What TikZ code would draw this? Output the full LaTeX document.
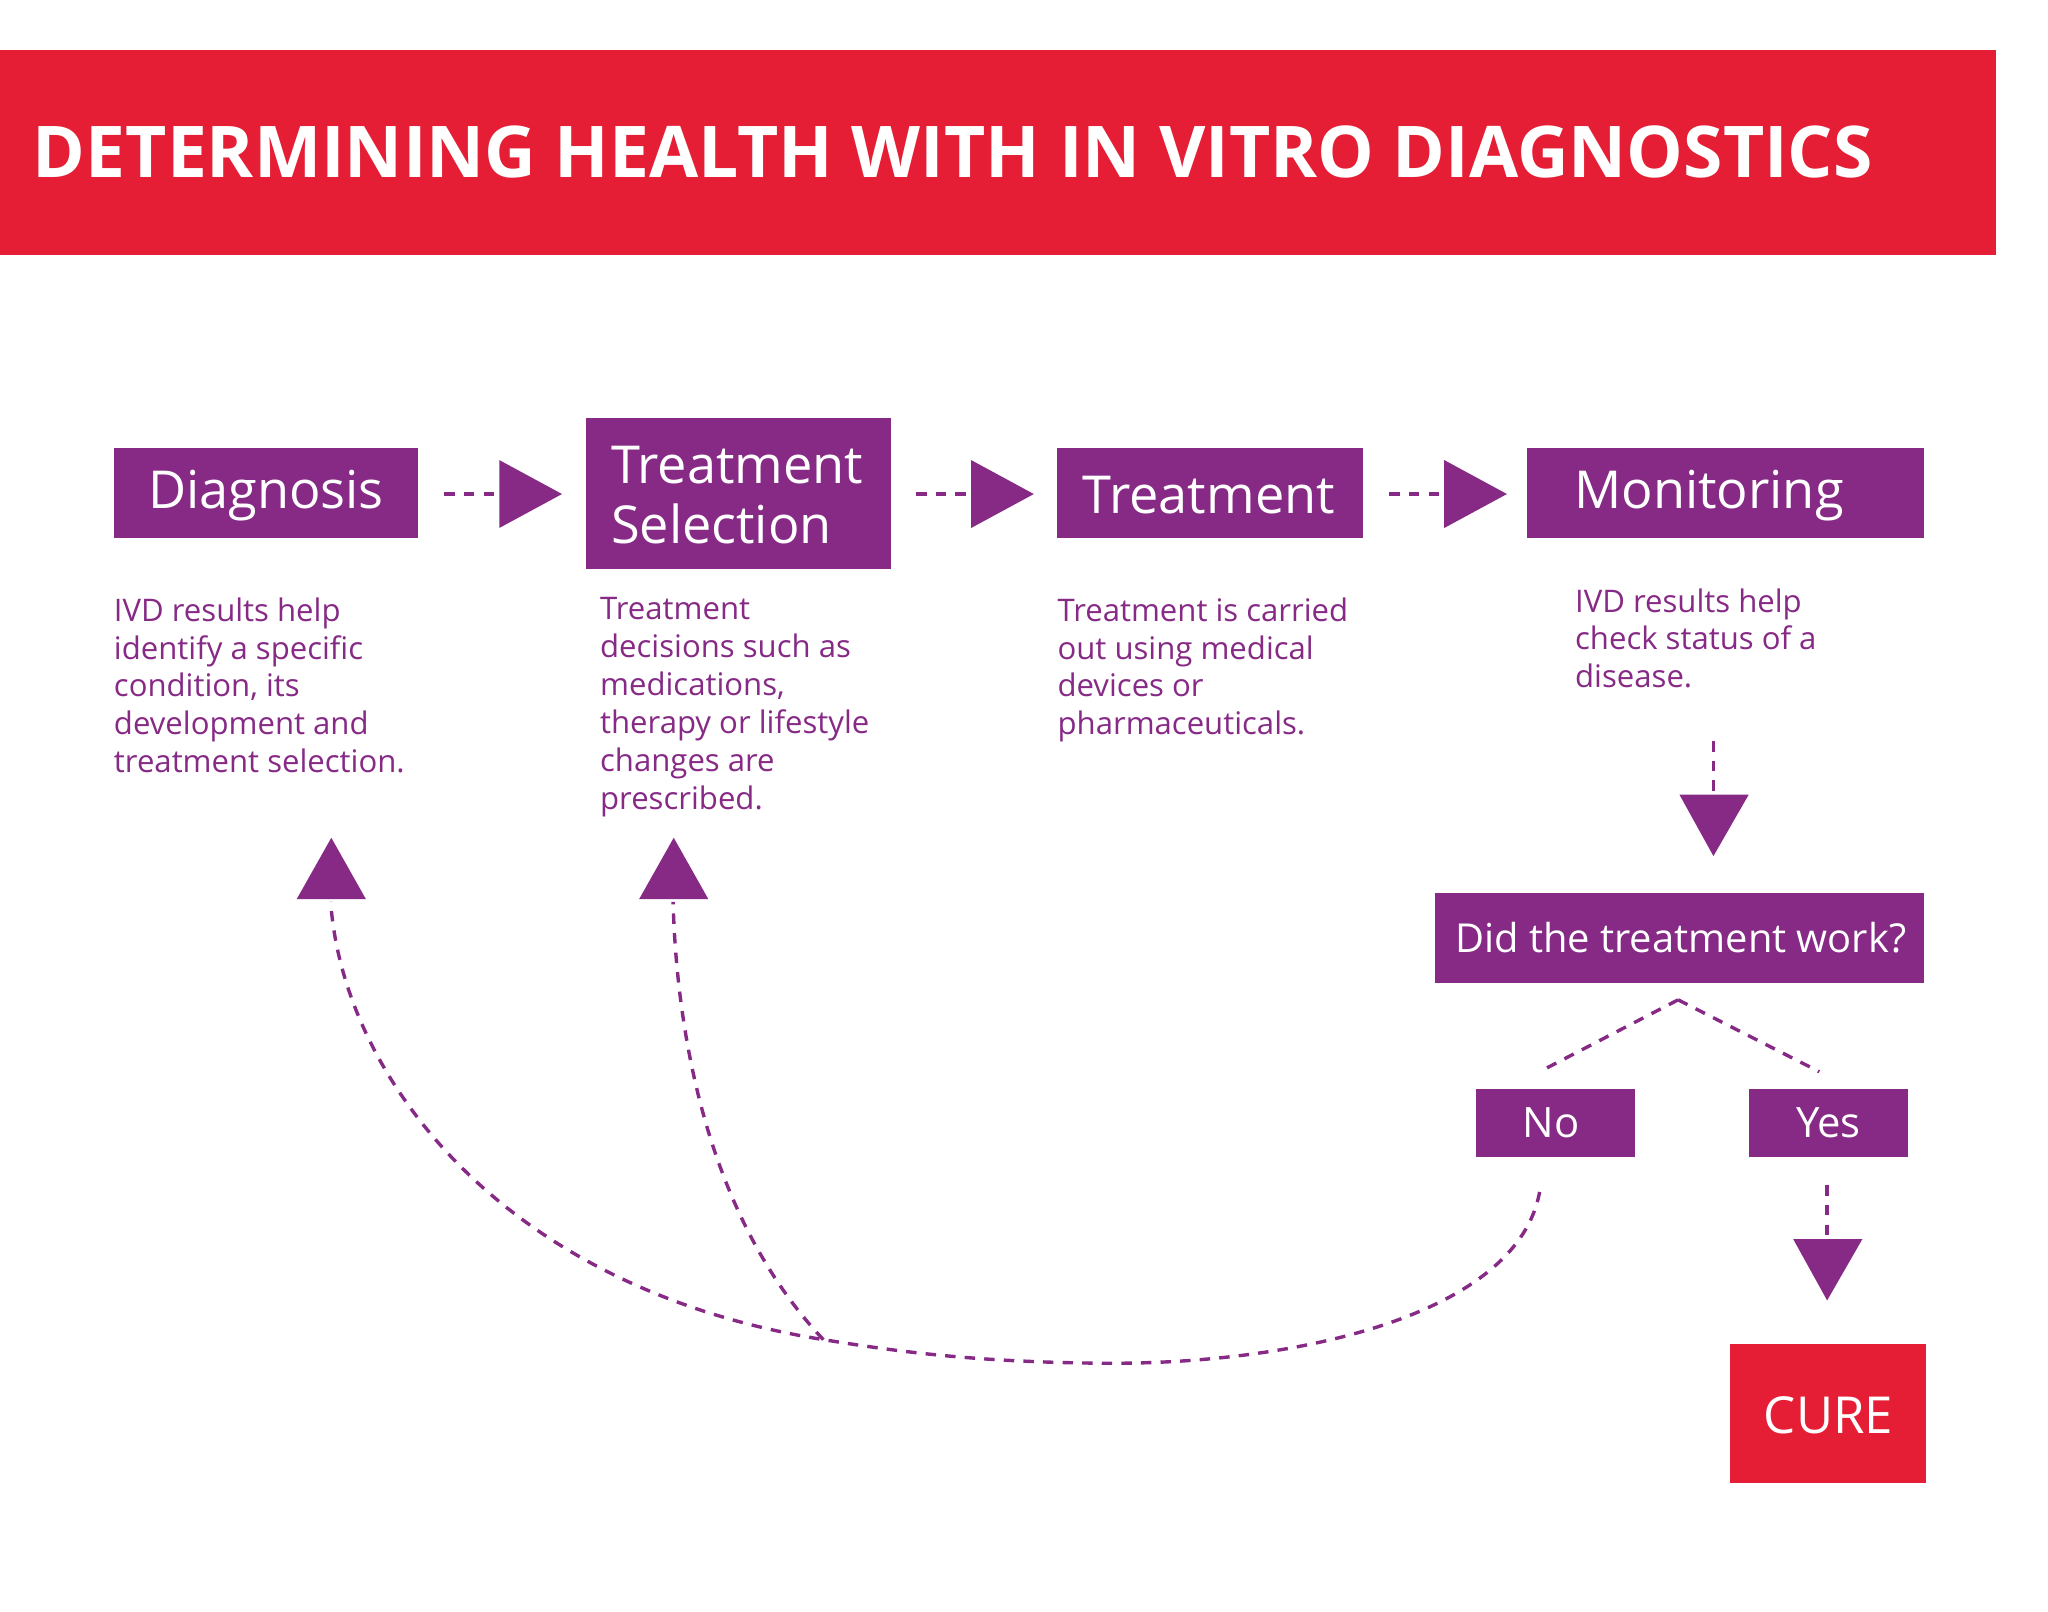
\documentclass[tikz,border=0pt]{standalone}
\usepackage{fontspec}
\setmainfont{Open Sans}
\definecolor{pur}{HTML}{862A86}
\definecolor{rd}{HTML}{E51E35}
\begin{document}
\begin{tikzpicture}[x=1pt,y=-1pt,
  desc/.style={text=pur,anchor=north west,align=left,inner sep=0pt,font=\fontsize{23.8}{29}\selectfont},
  dl/.style={pur,line width=2.6pt,dash pattern=on 8pt off 7pt}]
\useasboundingbox (0,0) rectangle (1567,1233);
\fill[white] (0,0) rectangle (1567,1233);
\fill[rd] (0,38) rectangle (1527,195);
\node[anchor=base west,text=white,inner sep=0pt,font=\fontsize{54.6}{58}\bfseries\selectfont] (title) at (25,136) {DETERMINING HEALTH WITH IN VITRO DIAGNOSTICS};
% boxes
\fill[pur] (87,343) rectangle (320,412);
\node[text=white,font=\fontsize{40}{44}\selectfont] (diag) at (203.5,379) {Diagnosis};
\fill[pur] (448,320) rectangle (682,435);
\node[text=white,anchor=west,align=left,font=\fontsize{40}{46}\selectfont] (tsel) at (464,379) {Treatment\\Selection};
\fill[pur] (809,343) rectangle (1043,412);
\node[text=white,font=\fontsize{40}{44}\selectfont] (treat) at (925,379) {Treatment};
\fill[pur] (1168,343) rectangle (1472,412);
\node[text=white,anchor=west,font=\fontsize{40}{44}\selectfont] (mon) at (1201,379) {Monitoring};
% horizontal arrows
\foreach \a in {340,701,1063}{
  \draw[dl] (\a,378) -- (\a+42,378);
  \fill[pur] (\a+42,352) -- (\a+90,378) -- (\a+42,404) -- cycle;}
% descriptions
\node[desc] (d1) at (87,457) {IVD results help\\identify a specific\\condition, its\\development and\\treatment selection.};
\node[desc] (d2) at (459,457) {Treatment\\decisions such as\\medications,\\therapy or lifestyle\\changes are\\prescribed.};
\node[desc] (d3) at (809,457) {Treatment is carried\\out using medical\\devices or\\pharmaceuticals.};
\node[desc] (d4) at (1205,450) {IVD results help\\check status of a\\disease.};
% down arrow to question
\coordinate (m1) at (1311,567); \coordinate (m2) at (1311,608);
\draw[dl] (m1) -- (m2);
\fill[pur] (1285,608) -- (1338,608) -- (1311,655) -- cycle;
\fill[pur] (1098,683) rectangle (1472,752);
\node[text=white,font=\fontsize{30.5}{34}\selectfont] (q) at (1286,717.5) {Did the treatment work?};
\coordinate (qb) at (1284,765); \coordinate (nt) at (1178,820); \coordinate (yt) at (1392,820);
\draw[dl] (qb) -- (nt); \draw[dl] (qb) -- (yt);
\fill[pur] (1129,833) rectangle (1251,885);
\node[text=white,font=\fontsize{32}{36}\selectfont] (no) at (1187,859) {No};
\fill[pur] (1338,833) rectangle (1460,885);
\node[text=white,font=\fontsize{32}{36}\selectfont] (yes) at (1399,859) {Yes};
\coordinate (y1) at (1398,907); \coordinate (y2) at (1398,948);
\draw[dl] (y1) -- (y2);
\fill[pur] (1372,948) -- (1425,948) -- (1398,995) -- cycle;
\fill[rd] (1324,1028) rectangle (1474,1135);
\node[text=white,font=\fontsize{39}{42}\selectfont] (cure) at (1399,1083) {CURE};
% up triangles
\fill[pur] (227,688) -- (280,688) -- (253.5,641) -- cycle;
\fill[pur] (489,688) -- (542,688) -- (515.5,641) -- cycle;
% curves
\coordinate (nb) at (1178,912); \coordinate (j) at (630,1025);
\coordinate (u1) at (253,690); \coordinate (u2) at (515,690);
\draw[dl] (nb) .. controls (1160,1010) and (980,1045) .. (840,1043)
  .. controls (740,1042) and (680,1033) .. (j)
  .. controls (380,985) and (262,820) .. (u1);
\draw[dl] (j) .. controls (545,935) and (518,800) .. (u2);
\end{tikzpicture}
\end{document}
